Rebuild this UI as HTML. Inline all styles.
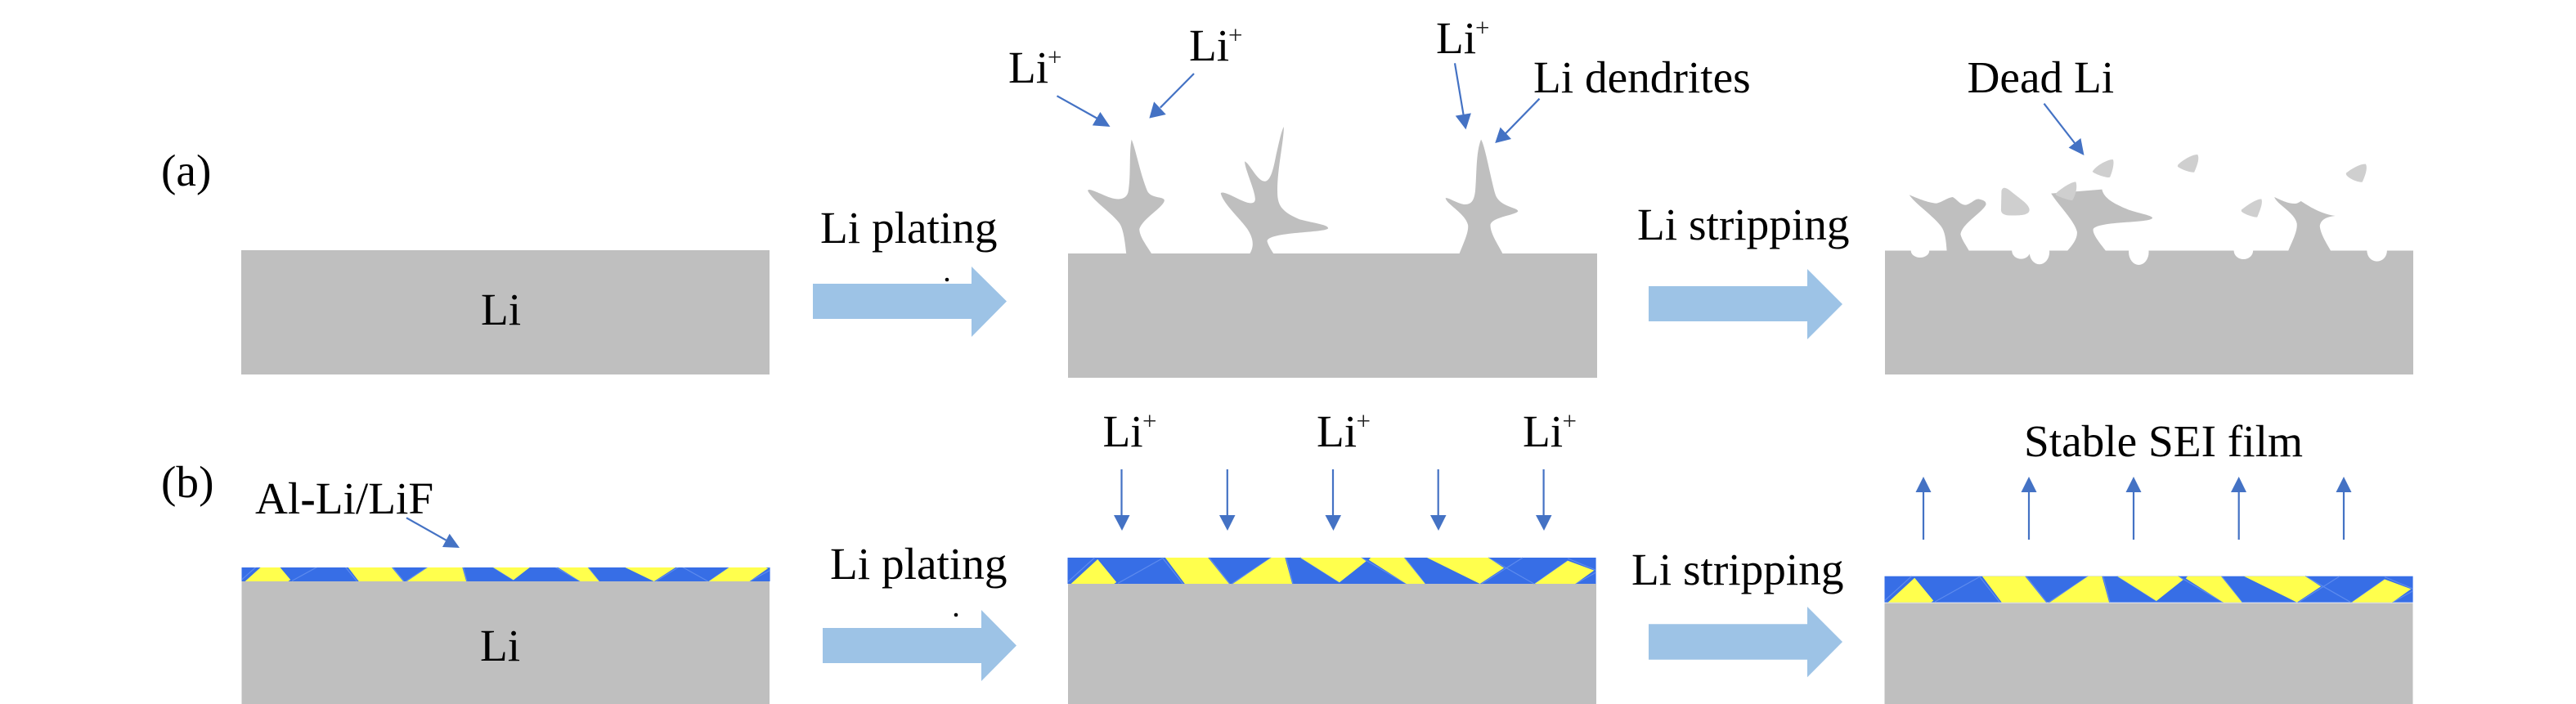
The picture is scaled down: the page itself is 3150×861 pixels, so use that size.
<!DOCTYPE html>
<html>
<head>
<meta charset="utf-8">
<style>
html,body{margin:0;padding:0;background:#fff;}
svg{display:block;}
text{font-family:"Liberation Serif",serif;font-size:55.3px;fill:#000;}
text.p{font-size:31px;fill:#222;}
.g{fill:#bfbfbf;}
.d{fill:#cfcfcf;}
.a{fill:#9dc3e6;}
.t{fill:#4472c4;}
.l{stroke:#4472c4;stroke-width:2.2;fill:none;}
.y{fill:#ffff4d;}
.ll{stroke:#5d8bee;stroke-width:1.2;fill:none;vector-effect:non-scaling-stroke;}
</style>
</head>
<body>
<svg width="3150" height="861" viewBox="0 0 3150 861" xmlns="http://www.w3.org/2000/svg">
<defs>
<g id="layer">
<rect x="98" y="187" width="1407" height="94" fill="#376ee6"/>
<path class="ll" d="M98 275L170 187M232 279L350 190M350 187L405 281M475 187L530 281M640 187L535 281M680 187L698 281M718 187L822 276M880 187L1000 281M996 187L1050 281M1218 187L1340 281M1310 187L1200 281M1430 190L1505 232M1505 240L1450 281M1342 281L1430 198"/>
<polygon class="y" points="107,281 178,193 228,275 222,281"/>
<polygon class="y" points="358,187 472,187 528,281 410,281"/>
<polygon class="y" points="640,187 677,187 696,281 538,281"/>
<polygon class="y" points="718,187 880,187 893,200 822,276"/>
<polygon class="y" points="900,195 905,187 994,187 1050,281 1000,281"/>
<polygon class="y" points="1055,187 1218,187 1260,224 1196,281"/>
<polygon class="y" points="1430,198 1500,233 1450,281 1342,281"/>
</g>
<clipPath id="c1"><rect x="295" y="694" width="647" height="17"/></clipPath>
</defs>

<!-- Row a blocks -->
<rect class="g" x="295" y="306" width="646" height="152"/>
<rect class="g" x="1306" y="310" width="647" height="152"/>
<rect class="g" x="2305" y="306.5" width="646" height="151.5"/>

<!-- Row b blocks -->
<rect class="g" x="295.5" y="711" width="645.5" height="150"/>
<rect class="g" x="1306" y="714" width="646" height="147"/>
<rect class="g" x="2304.5" y="737.5" width="646" height="123.5"/>

<!-- Layers -->
<g clip-path="url(#c1)"><use href="#layer" transform="translate(295.5,679.7) scale(.4592,.3333) translate(-98,-187)"/></g>
<use href="#layer" transform="translate(1305.5,682) scale(.4592,.3404) translate(-98,-187)"/>
<use href="#layer" transform="translate(2304.5,704.7) scale(.4592,.3404) translate(-98,-187)"/>

<!-- Dendrites, middle -->
<g transform="translate(1200,0) scale(.6378,.3333)">
<path class="g" d="M278 933C275 880 272 840 265 820C250 780 215 740 204 700C205 690 215 700 240 720C265 740 280 730 282 700C287 640 283 560 288 512C295 540 305 640 318 700C325 730 350 720 351 735C350 760 310 800 303 840C303 870 320 910 327 933Z"/>
<path class="g" d="M514 933C525 900 520 870 510 840C495 800 465 750 459 710C460 700 475 712 495 732C515 750 525 750 525 730C525 700 505 620 505 592C515 600 530 670 545 665C555 660 560 620 565 570C570 530 575 480 580 465C580 520 565 640 568 720C570 760 580 780 610 805C640 820 665 825 665 838C660 855 550 850 548 885C550 900 555 915 561 933Z"/>
<path class="g" d="M916 933C925 890 935 850 933 825C928 785 893 750 890 728C892 720 910 745 925 750C940 752 945 735 947 700C950 640 948 560 958 512C965 530 975 640 985 710C992 760 1028 760 1029 775C1025 790 980 795 976 825C976 860 992 900 1000 933Z"/>
<g class="t">
<polygon points="247,465 228,411 213,460"/>
<polygon points="322,434 331,373 354,420"/>
<polygon points="929,475 909,425 939,415"/>
<polygon points="985,525 995,467 1016,510"/>
</g>
</g>
<g class="l">
<line x1="1292.5" y1="117.3" x2="1342" y2="145"/>
<line x1="1460" y1="90" x2="1418.8" y2="131.7"/>
<line x1="1779" y1="77.3" x2="1789.5" y2="140"/>
<line x1="1882.5" y1="120.7" x2="1841" y2="163.3"/>
</g>

<!-- Dendrites, right -->
<g transform="translate(2200,60) scale(.5102,.3333)">
<g fill="#fff">
<ellipse cx="290" cy="740" rx="22" ry="25"/>
<ellipse cx="532" cy="740" rx="22" ry="30"/>
<ellipse cx="576" cy="745" rx="24" ry="45"/>
<ellipse cx="814" cy="745" rx="24" ry="47"/>
<ellipse cx="1065" cy="740" rx="23" ry="31"/>
<ellipse cx="1385" cy="740" rx="24" ry="39"/>
</g>
<path class="g" d="M354 742C352 700 350 670 340 650C320 610 280 570 264 535C280 545 310 565 330 566C345 560 355 545 368 543C378 550 385 572 400 572C415 565 420 550 430 550C445 555 448 560 448 570C440 600 390 640 387 680C390 700 400 720 408 742Z"/>
<path class="g" d="M642 742C655 720 668 695 666 670C660 630 620 570 604 530L726 515C730 545 750 565 790 590C820 605 845 610 847 620C840 640 720 630 705 660C702 680 725 720 736 742Z"/>
<path class="g" d="M1172 742C1180 710 1195 670 1193 640C1188 600 1145 570 1139 543C1150 550 1170 568 1190 567C1197 565 1200 560 1203 558C1220 575 1250 605 1285 612C1265 615 1250 625 1248 650C1250 680 1265 715 1275 742Z"/>
<path class="d" d="M485 520C488 505 495 505 510 525C530 550 552 570 552 590C552 610 530 612 500 610C488 608 484 600 484 590Z"/>
<path class="d" d="M705 445C715 425 740 405 752 405C756 415 752 445 745 470C740 475 710 460 703 450Z"/>
<path class="d" d="M908 425C920 405 945 385 955 387C960 400 955 425 947 452C940 455 912 440 907 430Z"/>
<path class="d" d="M1311 455C1323 440 1345 420 1358 422C1363 435 1358 460 1350 488C1340 490 1316 475 1311 460Z"/>
<path class="d" d="M1060 590C1072 575 1095 550 1108 550C1112 565 1105 590 1098 617C1090 618 1065 605 1060 595Z"/>
<path class="d" d="M615 530C625 515 650 488 663 487C667 500 665 530 655 555C645 555 620 540 615 535Z"/>
<polygon class="t" points="683,390 675,327 646,362"/>
</g>
<line class="l" x1="2499.5" y1="126.7" x2="2537" y2="175"/>

<!-- Large arrows -->
<polygon class="a" points="994,347 1188,347 1188,326 1231,368.5 1188,412 1188,390 994,390"/>
<polygon class="a" points="2016,350 2210,350 2210,329 2253,372 2210,415 2210,393 2016,393"/>
<polygon class="a" points="1006,768 1200,768 1200,746 1243,789.5 1200,833 1200,811 1006,811"/>
<polygon class="a" points="2016,763.3 2210,763.3 2210,742 2253,785 2210,828.3 2210,806.7 2016,806.7"/>

<!-- Vertical arrows -->
<g class="l">
<line x1="1371.5" y1="574" x2="1371.5" y2="632"/>
<line x1="1500.8" y1="574" x2="1500.8" y2="632"/>
<line x1="1630" y1="574" x2="1630" y2="632"/>
<line x1="1758.7" y1="574" x2="1758.7" y2="632"/>
<line x1="1887.6" y1="574" x2="1887.6" y2="632"/>
<line x1="2352" y1="600" x2="2352" y2="660"/>
<line x1="2481" y1="600" x2="2481" y2="660"/>
<line x1="2609" y1="600" x2="2609" y2="660"/>
<line x1="2737.7" y1="600" x2="2737.7" y2="660"/>
<line x1="2866" y1="600" x2="2866" y2="660"/>
</g>
<g class="t">
<polygon points="1362,630 1381.5,630 1372,649"/>
<polygon points="1491,630 1510.5,630 1501,649"/>
<polygon points="1620.5,630 1640,630 1630.5,649"/>
<polygon points="1749,630 1768.5,630 1759,649"/>
<polygon points="1878,630 1897.5,630 1888,649"/>
<polygon points="2342.5,602 2361.5,602 2352,583"/>
<polygon points="2471.5,602 2490.5,602 2481,583"/>
<polygon points="2599.5,602 2618.5,602 2609,583"/>
<polygon points="2728,602 2747,602 2737.7,583"/>
<polygon points="2856.5,602 2875.5,602 2866,583"/>
</g>

<!-- Al-Li/LiF arrow -->
<line class="l" x1="497" y1="633.3" x2="545.5" y2="660.7"/>
<polygon class="t" points="562,670 549.7,652.7 541,669"/>

<!-- Labels -->
<text x="197" y="227">(a)</text>
<text x="197" y="608">(b)</text>
<text x="588" y="397">Li</text>
<text x="587" y="808">Li</text>
<text x="1003" y="297">Li plating</text>
<text x="1015" y="708">Li plating</text>
<text x="2002" y="293">Li stripping</text>
<text x="1995" y="715">Li stripping</text>
<text x="1875" y="113">Li dendrites</text>
<text x="2405.5" y="113">Dead Li</text>
<text x="2475" y="558">Stable SEI film</text>
<text x="312" y="628">Al<tspan font-weight="bold">-</tspan>Li/LiF</text>

<text x="1233" y="101">Li</text><text class="p" x="1281" y="80">+</text>
<text x="1454" y="74">Li</text><text class="p" x="1502" y="53">+</text>
<text x="1756" y="65">Li</text><text class="p" x="1804" y="44">+</text>
<text x="1348.5" y="546">Li</text><text class="p" x="1397" y="525">+</text>
<text x="1610" y="546">Li</text><text class="p" x="1658.5" y="525">+</text>
<text x="1862" y="546">Li</text><text class="p" x="1910.5" y="525">+</text>

<circle cx="1158" cy="342" r="2.3" fill="#000"/>
<circle cx="1169" cy="752" r="2.3" fill="#000"/>
</svg>
</body>
</html>
